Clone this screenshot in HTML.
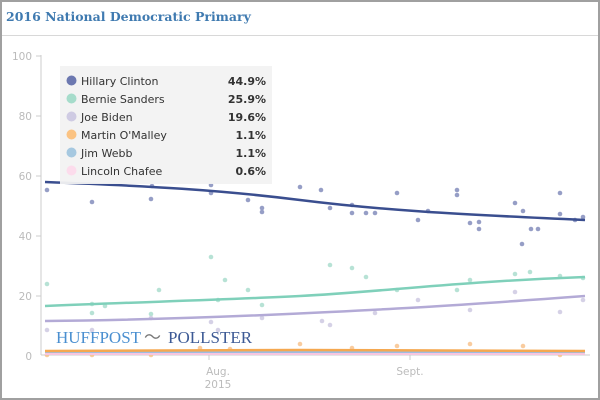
<!DOCTYPE html>
<html><head><style>
body{margin:0;background:#fff;}
.w{position:relative;width:596px;height:396px;border:2px solid #a0a0a0;font-family:"DejaVu Sans",sans-serif;}
.t{position:absolute;left:4px;top:7px;font-family:"DejaVu Serif","Liberation Serif",serif;font-weight:bold;font-size:12.5px;color:#3f7ab0;}
.hr{position:absolute;left:0;top:33px;width:596px;height:1px;background:#d8d8d8;}
</style></head><body><div class="w">
<div class="t">2016 National Democratic Primary</div><div class="hr"></div>
<svg width="596" height="396" style="position:absolute;left:0;top:0" font-family="DejaVu Sans, sans-serif">
<g transform="translate(-2,-2)">
<line x1="41" y1="55" x2="41" y2="355" stroke="#ccc"/>
<line x1="41" y1="355" x2="590" y2="355" stroke="#ccc"/>
<g stroke="#ccc"><line x1="36" y1="56" x2="41" y2="56"/><line x1="36" y1="116" x2="41" y2="116"/><line x1="36" y1="176" x2="41" y2="176"/><line x1="36" y1="236" x2="41" y2="236"/><line x1="36" y1="296" x2="41" y2="296"/><line x1="209" y1="355" x2="209" y2="360"/><line x1="410" y1="355" x2="410" y2="360"/></g>
<g fill="#bbb" font-size="10.5" text-anchor="end"><text x="32" y="60">100</text><text x="32" y="120">80</text><text x="32" y="180">60</text><text x="32" y="240">40</text><text x="32" y="300">20</text><text x="32" y="360">0</text></g>
<g fill="#bbb" font-size="10.5" text-anchor="middle"><text x="218" y="375">Aug.</text><text x="218" y="388">2015</text><text x="410" y="375">Sept.</text></g>
<g fill="#7d86b8" opacity="0.8">
<circle cx="47" cy="190" r="2.3"/><circle cx="92" cy="202" r="2.3"/><circle cx="92" cy="172" r="2.3"/><circle cx="151" cy="199" r="2.3"/><circle cx="152" cy="186" r="2.3"/><circle cx="211" cy="185" r="2.3"/><circle cx="211" cy="193" r="2.3"/><circle cx="248" cy="200" r="2.3"/><circle cx="262" cy="208" r="2.3"/><circle cx="262" cy="212" r="2.3"/><circle cx="300" cy="187" r="2.3"/><circle cx="321" cy="190" r="2.3"/><circle cx="330" cy="208" r="2.3"/><circle cx="352" cy="205" r="2.3"/><circle cx="352" cy="213" r="2.3"/><circle cx="366" cy="213" r="2.3"/><circle cx="375" cy="213" r="2.3"/><circle cx="397" cy="193" r="2.3"/><circle cx="418" cy="220" r="2.3"/><circle cx="428" cy="211" r="2.3"/><circle cx="457" cy="190" r="2.3"/><circle cx="457" cy="195" r="2.3"/><circle cx="470" cy="223" r="2.3"/><circle cx="479" cy="222" r="2.3"/><circle cx="479" cy="229" r="2.3"/><circle cx="515" cy="203" r="2.3"/><circle cx="523" cy="211" r="2.3"/><circle cx="522" cy="244" r="2.3"/><circle cx="531" cy="229" r="2.3"/><circle cx="538" cy="229" r="2.3"/><circle cx="560" cy="193" r="2.3"/><circle cx="560" cy="214" r="2.3"/><circle cx="575" cy="220" r="2.3"/><circle cx="583" cy="217" r="2.3"/>
</g>
<g fill="#a6dccb" opacity="0.8">
<circle cx="47" cy="284" r="2.3"/><circle cx="92" cy="304" r="2.3"/><circle cx="92" cy="313" r="2.3"/><circle cx="105" cy="306" r="2.3"/><circle cx="151" cy="314" r="2.3"/><circle cx="159" cy="290" r="2.3"/><circle cx="211" cy="257" r="2.3"/><circle cx="218" cy="300" r="2.3"/><circle cx="225" cy="280" r="2.3"/><circle cx="248" cy="290" r="2.3"/><circle cx="262" cy="305" r="2.3"/><circle cx="330" cy="265" r="2.3"/><circle cx="352" cy="268" r="2.3"/><circle cx="366" cy="277" r="2.3"/><circle cx="397" cy="290" r="2.3"/><circle cx="457" cy="290" r="2.3"/><circle cx="470" cy="280" r="2.3"/><circle cx="515" cy="274" r="2.3"/><circle cx="530" cy="272" r="2.3"/><circle cx="560" cy="276" r="2.3"/><circle cx="583" cy="278" r="2.3"/>
</g>
<g fill="#cbc6e0" opacity="0.8">
<circle cx="47" cy="330" r="2.3"/><circle cx="92" cy="330" r="2.3"/><circle cx="151" cy="318" r="2.3"/><circle cx="211" cy="322" r="2.3"/><circle cx="218" cy="330" r="2.3"/><circle cx="262" cy="318" r="2.3"/><circle cx="322" cy="321" r="2.3"/><circle cx="330" cy="325" r="2.3"/><circle cx="375" cy="313" r="2.3"/><circle cx="418" cy="300" r="2.3"/><circle cx="470" cy="310" r="2.3"/><circle cx="515" cy="292" r="2.3"/><circle cx="560" cy="312" r="2.3"/><circle cx="583" cy="300" r="2.3"/>
</g>
<g fill="#f8c088" opacity="0.8">
<circle cx="47" cy="355" r="2.3"/><circle cx="92" cy="355" r="2.3"/><circle cx="151" cy="355" r="2.3"/><circle cx="200" cy="348" r="2.3"/><circle cx="230" cy="349" r="2.3"/><circle cx="300" cy="344" r="2.3"/><circle cx="352" cy="348" r="2.3"/><circle cx="397" cy="346" r="2.3"/><circle cx="470" cy="344" r="2.3"/><circle cx="523" cy="346" r="2.3"/><circle cx="560" cy="355" r="2.3"/>
</g>
<path d="M45,182 C150,186 220,190 300,200 S450,214 585,220" fill="none" stroke="#3a4e8f" stroke-width="2.5"/>
<path d="M45,306 C140,302 220,300 300,296 S450,282 585,277" fill="none" stroke="#7fd0ba" stroke-width="2.5"/>
<path d="M45,321 C150,320 250,316 330,312 S450,306 585,296" fill="none" stroke="#b3aad6" stroke-width="2.5"/>
<path d="M45,354 L585,354" stroke="#f7c6e0" stroke-width="2"/>
<path d="M45,352 L585,352" stroke="#9dbde0" stroke-width="2"/>
<path d="M45,351 L300,350 L585,351" stroke="#f5a850" stroke-width="2.5" fill="none"/>
<text x="56" y="343" font-family="Liberation Serif, serif" font-size="17" fill="#4a8fd0">HUFFPOST</text>
<text x="144" y="343" font-family="Liberation Serif, serif" font-size="17" fill="#777">〜</text>
<text x="168" y="343" font-family="Liberation Serif, serif" font-size="17" fill="#3d5a95">POLLSTER</text>
<rect x="60" y="66" width="212" height="118" fill="#f2f2f2" opacity="0.95"/>
<g font-size="11" fill="#333">
<circle cx="71.5" cy="80.5" r="5" fill="#6c78b0"/><text x="81" y="85">Hillary Clinton</text><text x="266" y="85" text-anchor="end" font-weight="bold">44.9%</text>
<circle cx="71.5" cy="98.5" r="5" fill="#a6dccb"/><text x="81" y="103">Bernie Sanders</text><text x="266" y="103" text-anchor="end" font-weight="bold">25.9%</text>
<circle cx="71.5" cy="116.5" r="5" fill="#cfcbe3"/><text x="81" y="121">Joe Biden</text><text x="266" y="121" text-anchor="end" font-weight="bold">19.6%</text>
<circle cx="71.5" cy="134.5" r="5" fill="#fbc383"/><text x="81" y="139">Martin O'Malley</text><text x="266" y="139" text-anchor="end" font-weight="bold">1.1%</text>
<circle cx="71.5" cy="152.5" r="5" fill="#a6c8e0"/><text x="81" y="157">Jim Webb</text><text x="266" y="157" text-anchor="end" font-weight="bold">1.1%</text>
<circle cx="71.5" cy="170.5" r="5" fill="#fcdcec"/><text x="81" y="175">Lincoln Chafee</text><text x="266" y="175" text-anchor="end" font-weight="bold">0.6%</text>
</g>
</g></svg></div></body></html>
